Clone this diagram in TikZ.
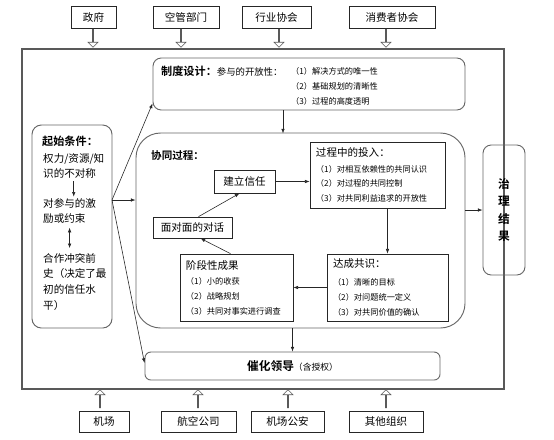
\documentclass[tikz,border=0pt]{standalone}
\usepackage{fontspec}
\setmainfont{Noto Sans CJK SC}[BoldFont={Noto Sans CJK SC Bold}]
\usetikzlibrary{arrows.meta,positioning,calc,shapes.arrows}

\tikzset{
  framebox/.style={draw=black!65, line width=0.9pt, inner sep=0pt},
  plainbox/.style={draw=black!85, line width=0.6pt, inner sep=0pt, font=\fontsize{9}{11}\selectfont},
  roundbox/.style={draw=black!60, line width=0.8pt, rounded corners=7pt, inner sep=0pt},
  listbox/.style={draw=black!85, line width=0.6pt, inner xsep=0.18cm, inner ysep=0pt, align=left, font=\fontsize{7}{12.5}\selectfont},
  txt/.style={inner sep=0pt, align=left, font=\fontsize{9}{13.6}\selectfont},
  flow/.style={-{Latex[length=4pt,width=3pt]}, line width=0.5pt, draw=black!85},
  hollowarrow/.style={single arrow, draw=black!65, line width=0.5pt, fill=white, inner sep=0pt,
    minimum width=8.5pt, single arrow head extend=2.2pt, minimum height=0.54cm}
}

\begin{document}
\begin{tikzpicture}[x=0.03cm, y=-0.03cm]
  \useasboundingbox (0,0) rectangle (554,439);

  % outer frame
  \node[framebox, minimum width=14.46cm, minimum height=10.2cm] (frame) at (263,219) {};

  % stakeholders above
  \node[plainbox, minimum width=1.35cm, minimum height=0.66cm] (gov) at (93.5,17) {政府};
  \node[plainbox, minimum width=1.98cm, minimum height=0.66cm] (atc) at (186,17) {空管部门};
  \node[plainbox, minimum width=2.07cm, minimum height=0.66cm] (assoc) at (276.5,17) {行业协会};
  \node[plainbox, minimum width=2.58cm, minimum height=0.66cm] (consumer) at (392,17) {消费者协会};
  \node[hollowarrow, shape border rotate=270] (ag1) at (93,38) {};
  \node[hollowarrow, shape border rotate=270] (ag2) at (181,38) {};
  \node[hollowarrow, shape border rotate=270] (ag3) at (279,38) {};
  \node[hollowarrow, shape border rotate=270] (ag4) at (386,38) {};

  % stakeholders below
  \node[plainbox, minimum width=1.5cm, minimum height=0.63cm] (airport) at (104,421.5) {机场};
  \node[plainbox, minimum width=2.25cm, minimum height=0.63cm] (airline) at (198.5,421.5) {航空公司};
  \node[plainbox, minimum width=2.19cm, minimum height=0.63cm] (police) at (287.5,421.5) {机场公安};
  \node[plainbox, minimum width=2.22cm, minimum height=0.63cm] (others) at (386,421.5) {其他组织};
  \node[hollowarrow, shape border rotate=90] (ab1) at (100,399) {};
  \node[hollowarrow, shape border rotate=90] (ab2) at (198,399) {};
  \node[hollowarrow, shape border rotate=90] (ab3) at (288,399) {};
  \node[hollowarrow, shape border rotate=90] (ab4) at (386,399) {};

  % starting conditions
  \node[roundbox, rounded corners=8pt, minimum width=2.4cm, minimum height=6.09cm] (start) at (72,226.5) {};
  \node[txt, anchor=west, font=\bfseries\fontsize{9.5}{12}\selectfont] (starttitle) at (42,141) {起始条件：};
  \node[txt, anchor=west] (st1) at (43,166) {权力/资源/知\\识的不对称};
  \node[txt, anchor=west] (st2) at (43,211) {对参与的激\\励或约束};
  \node[txt, anchor=west] (st3) at (43,282) {合作冲突前\\史（决定了最\\初的信任水\\平）};
  \draw[flow, shorten <=2pt, shorten >=1pt] (st1.south) -- (st1.south |- st2.north);
  \draw[flow, {Latex[length=4pt,width=3pt]}-{Latex[length=4pt,width=3pt]}, shorten <=3pt, shorten >=4pt] (st2.south) -- (st2.south |- st3.north);

  % institutional design
  \node[roundbox, minimum width=9.36cm, minimum height=1.56cm] (inst) at (309,84) {};
  \node[txt, anchor=west] (insttitle) at (161,71) {{\bfseries\fontsize{9.5}{12}\selectfont 制度设计：}{\fontsize{8}{10}\selectfont 参与的开放性：}};
  \node[txt, anchor=west, font=\fontsize{7}{12.8}\selectfont] (instlist) at (291,86) {（1）解决方式的唯一性\\（2）基础规划的清晰性\\（3）过程的高度透明};

  % collaborative process
  \node[roundbox, rounded corners=21pt, minimum width=9.87cm, minimum height=5.85cm] (collab) at (300.5,230.5) {};
  \node[txt, anchor=west, font=\bfseries\fontsize{9}{12}\selectfont] (collabtitle) at (151,155) {协同过程：};
  \node[plainbox, minimum width=1.83cm, minimum height=0.69cm] (trust) at (244.5,181.5) {建立信任};
  \node[plainbox, minimum width=2.37cm, minimum height=0.63cm] (dialog) at (192.5,227.5) {面对面的对话};
  \node[listbox, text width=3.69cm, minimum height=1.98cm] (input) at (377.5,175)
    {{\fontsize{9}{11}\selectfont 过程中的投入：}\\[1pt]（1）对相互依赖性的共同认识\\（2）对过程的共同控制\\（3）对共同利益追求的开放性};
  \node[listbox, text width=3.27cm, minimum height=2.01cm] (consensus) at (387.5,287.5)
    {{\fontsize{9}{11}\selectfont 达成共识：}\\[3pt]（1）清晰的目标\\（2）对问题统一定义\\（3）对共同价值的确认};
  \node[listbox, text width=3.03cm, minimum height=2.01cm] (outcome) at (236.5,287.5)
    {{\fontsize{9}{11}\selectfont 阶段性成果}\\[1pt]（1）小的收获\\（2）战略规划\\（3）共同对事实进行调查};

  % governance result and catalytic leadership
  \node[roundbox, minimum width=1.26cm, minimum height=3.9cm, align=center, font=\bfseries\fontsize{10}{15}\selectfont] (result) at (504,210) {治\\理\\结\\果};
  \node[roundbox, rounded corners=5pt, minimum width=8.85cm, minimum height=0.84cm] (catalyst) at (292.5,366)
    {{\bfseries\fontsize{10}{12}\selectfont 催化领导}{\fontsize{7.5}{9}\selectfont （含授权）}};

  % connectors
  \coordinate (fork) at (112,200);
  \draw[flow] (fork) -- ($(inst.south west)+(0,-7)$);
  \draw[flow] (fork) -- (collab.west |- fork);
  \draw[flow] (fork) -- ($(catalyst.west)+(0,-3)$);
  \draw[flow] ($(inst.south)+(-26,0)$) -- ($(inst.south)+(-26,23)$);
  \draw[flow] (trust.east) -- (trust.east -| input.west);
  \draw[flow] (consensus.north |- input.south) -- (consensus.north);
  \draw[flow] (consensus.west) -- (outcome.east);
  \draw[flow] ($(outcome.north)+(-6,0)$) -- ($(dialog.south)+(8,0)$);
  \draw[flow] ($(dialog.north)+(6,0)$) -- ($(trust.south)+(-5,0)$);
  \draw[flow] (collab.east |- result) -- (result.west);
  \draw[flow] (collab.south -| catalyst.north) -- (catalyst.north);
\end{tikzpicture}
\end{document}
